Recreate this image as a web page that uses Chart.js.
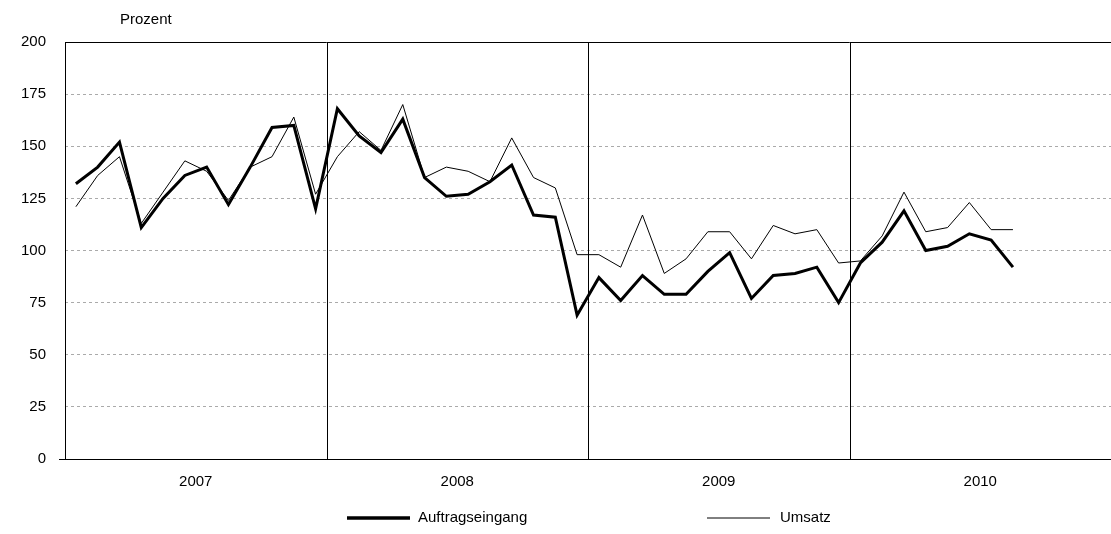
<!DOCTYPE html>
<html>
<head>
<meta charset="utf-8">
<script src="https://cdn.jsdelivr.net/npm/chart.js@4"></script>
<style>
  html, body { margin: 0; padding: 0; background: #fff; }
  #wrap { width: 1111px; height: 534px; }
</style>
</head>
<body>
<div id="wrap"><canvas id="c"></canvas></div>
<script>
const years = ['2007', '2008', '2009', '2010'];
const months = [];
years.forEach(y => { for (let m = 1; m <= 12; m++) months.push(y + '-' + m); });

const auftragseingang = [132, 140, 152, 111, 125, 136, 140, 122, 140, 159, 160, 120,
  168, 155, 147, 163, 135, 126, 127, 133, 141, 117, 116, 69,
  87, 76, 88, 79, 79, 90, 99, 77, 88, 89, 92, 75,
  94, 104, 119, 100, 102, 108, 105, 92];
const umsatz = [121, 136, 145, 113, 128, 143, 138, 124, 140, 145, 164, 127,
  145, 157, 148, 170, 135, 140, 138, 133, 154, 135, 130, 98,
  98, 92, 117, 89, 96, 109, 109, 96, 112, 108, 110, 94,
  95, 107, 128, 109, 111, 123, 110, 110];
const yTicks = [0, 25, 50, 75, 100, 125, 150, 175, 200];

const FONT = 'Arial, "Liberation Sans", sans-serif';

// Jahreslinien, Achsen, Jahresbeschriftung und Legende
const extras = {
  id: 'extras',
  afterDatasetsDraw(chart) {
    const { ctx, chartArea: a, scales: { x } } = chart;
    ctx.save();
    ctx.strokeStyle = '#000';
    ctx.lineWidth = 1;
    ctx.beginPath();
    ctx.moveTo(a.left, a.top + 0.5); ctx.lineTo(a.right, a.top + 0.5);
    ctx.moveTo(a.left - 6, a.bottom + 0.5); ctx.lineTo(a.right, a.bottom + 0.5);
    ctx.moveTo(a.left + 0.5, a.top); ctx.lineTo(a.left + 0.5, a.bottom);
    ctx.stroke();
    [12, 24, 36].forEach(i => {
      const px = Math.round((x.getPixelForValue(i - 1) + x.getPixelForValue(i)) / 2) + 0.5;
      ctx.beginPath(); ctx.moveTo(px, a.top); ctx.lineTo(px, a.bottom); ctx.stroke();
    });
    ctx.fillStyle = '#000';
    ctx.font = '15px ' + FONT;
    ctx.textAlign = 'center';
    ctx.textBaseline = 'middle';
    years.forEach((y, k) => {
      const px = (x.getPixelForValue(k * 12 + 5) + x.getPixelForValue(k * 12 + 6)) / 2;
      ctx.fillText(y, px, a.bottom + 23);
    });
    ctx.textAlign = 'left';
    ctx.fillText('Prozent', 120, 20);
    // Legende
    const ly = 518;
    ctx.lineWidth = 3.5;
    ctx.beginPath(); ctx.moveTo(347, ly); ctx.lineTo(410, ly); ctx.stroke();
    ctx.fillText('Auftragseingang', 418, ly);
    ctx.lineWidth = 1;
    ctx.beginPath(); ctx.moveTo(707, ly); ctx.lineTo(770, ly); ctx.stroke();
    ctx.fillText('Umsatz', 780, ly);
    ctx.restore();
  }
};

new Chart(document.getElementById('c'), {
  type: 'line',
  data: {
    labels: months,
    datasets: [
      { label: 'Umsatz', data: umsatz, borderColor: '#000', borderWidth: 1, pointRadius: 0, tension: 0 },
      { label: 'Auftragseingang', data: auftragseingang, borderColor: '#000', borderWidth: 3, pointRadius: 0, tension: 0 }
    ]
  },
  options: {
    responsive: true,
    maintainAspectRatio: false,
    animation: false,
    layout: { padding: { top: 42, right: 0, bottom: 67, left: 0 } },
    plugins: { legend: { display: false }, tooltip: { enabled: false } },
    scales: {
      x: {
        offset: true,
        grid: { display: false },
        border: { display: false },
        ticks: { display: false }
      },
      y: {
        min: 0, max: 200,
        afterFit(s) { s.width = 65; },
        afterBuildTicks(s) { s.ticks = yTicks.map(v => ({ value: v })); },
        grid: { color: '#aaa', lineWidth: 1, drawTicks: false },
        border: { display: false, dash: [3, 3] },
        ticks: { color: '#000', font: { size: 15, family: FONT }, padding: 19 }
      }
    }
  },
  plugins: [extras]
});
</script>
</body>
</html>
